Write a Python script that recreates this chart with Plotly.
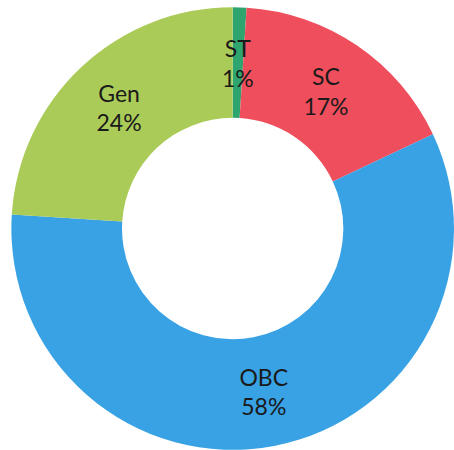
import math
import plotly.graph_objects as go

labels = ["ST", "SC", "OBC", "Gen"]
values = [1, 17, 58, 24]
colors = ["#2EA56E", "#EF4E5C", "#38A2E4", "#AACB58"]

W, H = 454, 450
dom_x = [0.025, 1.0]
dom_y = [0.0004, 0.984]
hole = 0.5
font = dict(family="Lato, Open Sans, sans-serif", size=23, color="#1a1a1a")

total = sum(values)
pcts = [round(v / total * 100) for v in values]
# the tiny first slice gets its label as an annotation (plotly would push it out)
texts = ["" if i == 0 else f"{l}<br>{p}%" for i, (l, p) in enumerate(zip(labels, pcts))]

fig = go.Figure(go.Pie(
    labels=labels,
    values=values,
    hole=hole,
    sort=False,
    direction="clockwise",
    rotation=0,
    marker=dict(colors=colors, line=dict(width=0)),
    text=texts,
    textinfo="text",
    textposition="inside",
    insidetextorientation="horizontal",
    textfont=font,
    showlegend=False,
    hoverinfo="label+percent",
    domain=dict(x=dom_x, y=dom_y),
))

# position of first slice's label at its mid-angle, middle of the ring
pw = (dom_x[1] - dom_x[0]) * W
ph = (dom_y[1] - dom_y[0]) * H
R = min(pw, ph) / 2
cx = (dom_x[0] + dom_x[1]) / 2 * W
cy = (dom_y[0] + dom_y[1]) / 2 * H
rm = R * (1 + hole) / 2
ang = math.radians(values[0] / 2 / total * 360)
ax = (cx + rm * math.sin(ang)) / W
ay = (cy + rm * math.cos(ang)) / H

fig.add_annotation(
    x=ax, y=ay, xref="paper", yref="paper",
    text=f"{labels[0]}<br>{pcts[0]}%",
    showarrow=False, font=font, xanchor="center", yanchor="middle",
)

fig.update_layout(
    width=W, height=H,
    margin=dict(l=0, r=0, t=0, b=0),
    paper_bgcolor="white",
    plot_bgcolor="white",
)

fig.write_html("out.html", config={"displayModeBar": False},
               post_script="document.body.style.margin='0';")
